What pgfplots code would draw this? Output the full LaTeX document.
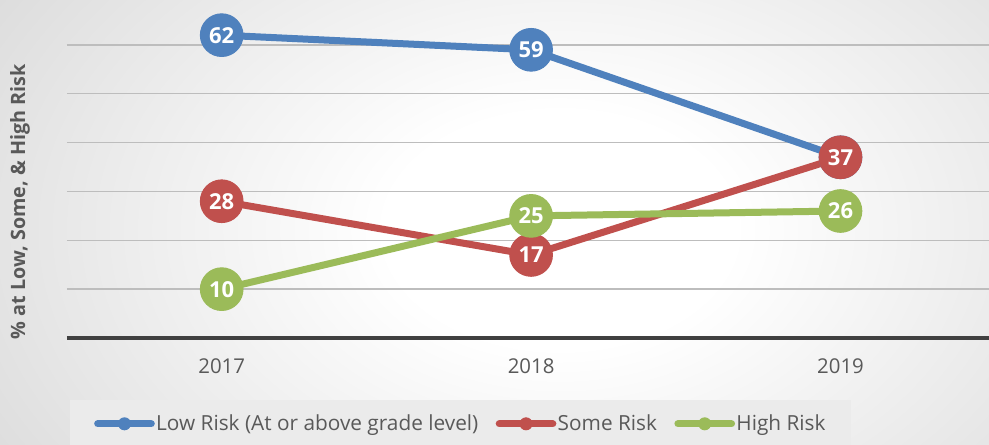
\documentclass[border=0pt]{standalone}
\usepackage{pgfplots}
\pgfplotsset{compat=1.18}
\usepackage{fontspec}
\setmainfont{Open Sans}
\definecolor{cblue}{HTML}{4F81BD}
\definecolor{cred}{HTML}{C0504D}
\definecolor{cgreen}{HTML}{9BBB59}
\definecolor{txt}{HTML}{595959}
\definecolor{gridc}{HTML}{BDBDBD}
\definecolor{axc}{HTML}{404040}
\pgfdeclareradialshading{bgshade}{\pgfpoint{0bp}{0bp}}{color(0bp)=(white); color(7bp)=(white); color(45bp)=(black!26); color(100bp)=(black!26)}
\begin{document}
\begin{tikzpicture}
\useasboundingbox (0,0) rectangle (741.75pt,333.75pt);
\clip (0,0) rectangle (741.75pt,333.75pt);
\shade[shading=bgshade] (-45pt,-153.75pt) rectangle (885pt,476.25pt);
\begin{axis}[
  at={(50.25pt,80.25pt)}, anchor=south west,
  scale only axis, width=691.5pt, height=253.5pt,
  xmin=-0.5, xmax=2.48, ymin=0, ymax=69.2,
  clip=false,
  axis x line*=bottom, axis y line*=left,
  x axis line style={draw=axc, line width=3pt},
  y axis line style={draw=none},
  xtick={0,1,2}, xticklabels={2017,2018,2019},
  ytick={10,20,30,40,50,60}, yticklabels={},
  major tick length=0pt,
  ymajorgrids, grid style={draw=gridc, line width=1pt},
  xticklabel style={font=\fontsize{15.3}{15.3}\selectfont, text=txt, yshift=-12pt},
  /pgf/number format/assume math mode=true,
  ylabel={\% at Low, Some, \& High Risk},
  ylabel style={at={(axis description cs:-0.051,0.403)}, anchor=center, font=\bfseries\fontsize{14.8}{14.8}\selectfont, text=txt},
  nodes near coords,
  every node near coord/.append style={anchor=center, text=white, font=\bfseries\fontsize{16.5}{16.5}\selectfont},
  legend columns=3,
  legend style={at={(axis description cs:0.4268,-0.1834)}, anchor=north, draw=none, fill=black!8,
    font=\fontsize{15.6}{15.6}\selectfont, text=txt, inner xsep=18pt, inner ysep=9pt,
    /tikz/every even column/.append style={column sep=12pt},
    nodes={inner xsep=1pt}},
  legend image code/.code={
    \draw[#1, mark=none, line width=5.5pt, line cap=round] (0pt,0pt) -- (40pt,0pt);
    \draw[#1, mark size=4.5pt] plot coordinates {(20pt,0pt)};
  },
]
\addplot[color=cblue, line width=5.25pt, mark=*, mark size=16pt, mark options={fill=cblue, line width=0.75pt}] coordinates {(0,62) (1,59) (2,37)};
\addlegendentry{Low Risk (At or above grade level)}
\addplot[color=cred, line width=5.25pt, mark=*, mark size=16pt, mark options={fill=cred, line width=0.75pt}] coordinates {(0,28) (1,17) (2,37)};
\addlegendentry{Some Risk}
\addplot[color=cgreen, line width=5.25pt, mark=*, mark size=16pt, mark options={fill=cgreen, line width=0.75pt}] coordinates {(0,10) (1,25) (2,26)};
\addlegendentry{High Risk}
\end{axis}
\end{tikzpicture}
\end{document}
